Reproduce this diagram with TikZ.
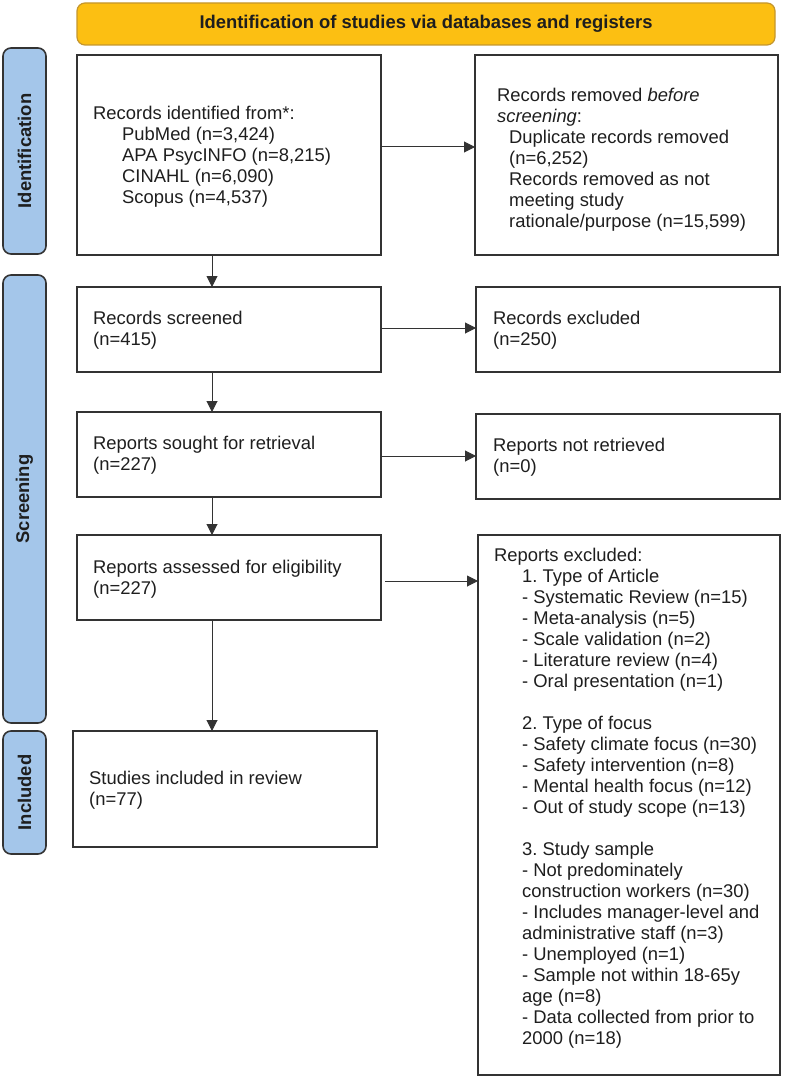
\documentclass[tikz,border=0pt]{standalone}
\usepackage{fontspec}
\setmainfont{Liberation Sans}
\usetikzlibrary{arrows.meta}
\definecolor{bannerfill}{RGB}{252,191,18}
\definecolor{bannerdraw}{RGB}{196,150,45}
\definecolor{labfill}{RGB}{164,198,234}
\definecolor{edge}{RGB}{51,51,51}
\definecolor{txt}{RGB}{30,30,30}
\frenchspacing
\begin{document}
\begin{tikzpicture}[x=1pt,y=-1pt,
  box/.style={draw=edge, line width=1.6pt, inner sep=0pt, outer sep=0pt},
  txtnode/.style={anchor=west, align=left, inner sep=0pt, font=\fontsize{18.4}{21}\selectfont\frenchspacing, text=txt},
  lab/.style={draw=edge, fill=labfill, line width=1.6pt, rounded corners=8pt, inner sep=0pt, outer sep=0pt},
  labtext/.style={rotate=90, font=\fontsize{18.4}{21}\selectfont\bfseries, text=txt, inner sep=0pt},
  arr/.style={draw=edge, line width=1pt, -{Triangle[length=11pt,width=11pt]}}]
\useasboundingbox (0,0) rectangle (784,1078);

% banner
\node[draw=bannerdraw, fill=bannerfill, line width=1.2pt, rounded corners=8pt,
      minimum width=698pt, minimum height=42pt, inner sep=0pt,
      font=\fontsize{18.4}{21}\selectfont\bfseries, text=txt] (banner) at (426,24)
      {Identification of studies via databases and registers};

% side labels
\node[lab, minimum width=43pt, minimum height=206pt] (l1) at (24.5,151) {};
\node[labtext] (l1t) at (l1.center) {Identification};
\node[lab, minimum width=43pt, minimum height=448pt] (l2) at (24.5,499) {};
\node[labtext] (l2t) at (l2.center) {Screening};
\node[lab, minimum width=43pt, minimum height=123pt] (l3) at (24.5,792.5) {};
\node[labtext] (l3t) at (l3.center) {Included};

% boxes
\node[box, minimum width=304pt, minimum height=200pt] (b1) at (229,155) {};
\node[box, minimum width=303pt, minimum height=200pt] (r1) at (626.5,155) {};
\node[box, minimum width=304pt, minimum height=85pt] (b2) at (229,329.5) {};
\node[box, minimum width=304pt, minimum height=85pt] (r2) at (628,329.5) {};
\node[box, minimum width=304pt, minimum height=85pt] (b3) at (229,454.5) {};
\node[box, minimum width=304pt, minimum height=85pt] (r3) at (628,456.5) {};
\node[box, minimum width=304pt, minimum height=85pt] (b4) at (229,577.5) {};
\node[box, minimum width=302pt, minimum height=540pt] (r4) at (629,805) {};
\node[box, minimum width=304pt, minimum height=116pt] (b5) at (225,789) {};

% texts
\node[txtnode] (t1) at (93,157) {Records identified from*:\\
\hspace*{29pt}PubMed (n=3,424)\\
\hspace*{29pt}APA PsycINFO (n=8,215)\\
\hspace*{29pt}CINAHL (n=6,090)\\
\hspace*{29pt}Scopus (n=4,537)};
\node[txtnode] (tr1) at (497,160) {Records removed \textit{before}\\
\textit{screening}:\\
\hspace*{12pt}Duplicate records removed\\
\hspace*{12pt}(n=6,252)\\
\hspace*{12pt}Records removed as not\\
\hspace*{12pt}meeting study\\
\hspace*{12pt}rationale/purpose (n=15,599)};
\node[txtnode] (t2) at (93,330) {Records screened\\(n=415)};
\node[txtnode] (tr2) at (493,330) {Records excluded\\(n=250)};
\node[txtnode] (t3) at (93,455) {Reports sought for retrieval\\(n=227)};
\node[txtnode] (tr3) at (493,457) {Reports not retrieved\\(n=0)};
\node[txtnode] (t4) at (93,579) {Reports assessed for eligibility\\(n=227)};
\node[txtnode] (t5) at (89,790) {Studies included in review\\(n=77)};
\node[txtnode] (tr4) at (494,798) {Reports excluded:\\
\hspace*{28pt}1. Type of Article\\
\hspace*{28pt}- Systematic Review (n=15)\\
\hspace*{28pt}- Meta-analysis (n=5)\\
\hspace*{28pt}- Scale validation (n=2)\\
\hspace*{28pt}- Literature review (n=4)\\
\hspace*{28pt}- Oral presentation (n=1)\\[21pt]
\hspace*{28pt}2. Type of focus\\
\hspace*{28pt}- Safety climate focus (n=30)\\
\hspace*{28pt}- Safety intervention (n=8)\\
\hspace*{28pt}- Mental health focus (n=12)\\
\hspace*{28pt}- Out of study scope (n=13)\\[21pt]
\hspace*{28pt}3. Study sample\\
\hspace*{28pt}- Not predominately\\
\hspace*{28pt}construction workers (n=30)\\
\hspace*{28pt}- Includes manager-level and\\
\hspace*{28pt}administrative staff (n=3)\\
\hspace*{28pt}- Unemployed (n=1)\\
\hspace*{28pt}- Sample not within 18-65y\\
\hspace*{28pt}age (n=8)\\
\hspace*{28pt}- Data collected from prior to\\
\hspace*{28pt}2000 (n=18)};

% connectors
\coordinate (ax) at (212,0);
\coordinate (h1) at (0,147);
\coordinate (h2) at (0,328);
\coordinate (h3) at (0,456);
\coordinate (h4) at (0,581);
\draw[arr] (b1.south -| ax) -- (b2.north -| ax);
\draw[arr] (b2.south -| ax) -- (b3.north -| ax);
\draw[arr] (b3.south -| ax) -- (b4.north -| ax);
\draw[arr] (b4.south -| ax) -- (b5.north -| ax);
\draw[arr] (b1.east |- h1) -- (r1.west |- h1);
\draw[arr] (b2.east |- h2) -- (r2.west |- h2);
\draw[arr] (b3.east |- h3) -- (r3.west |- h3);
\draw[arr] ([xshift=4pt]b4.east |- h4) -- (r4.west |- h4);
\end{tikzpicture}
\end{document}
